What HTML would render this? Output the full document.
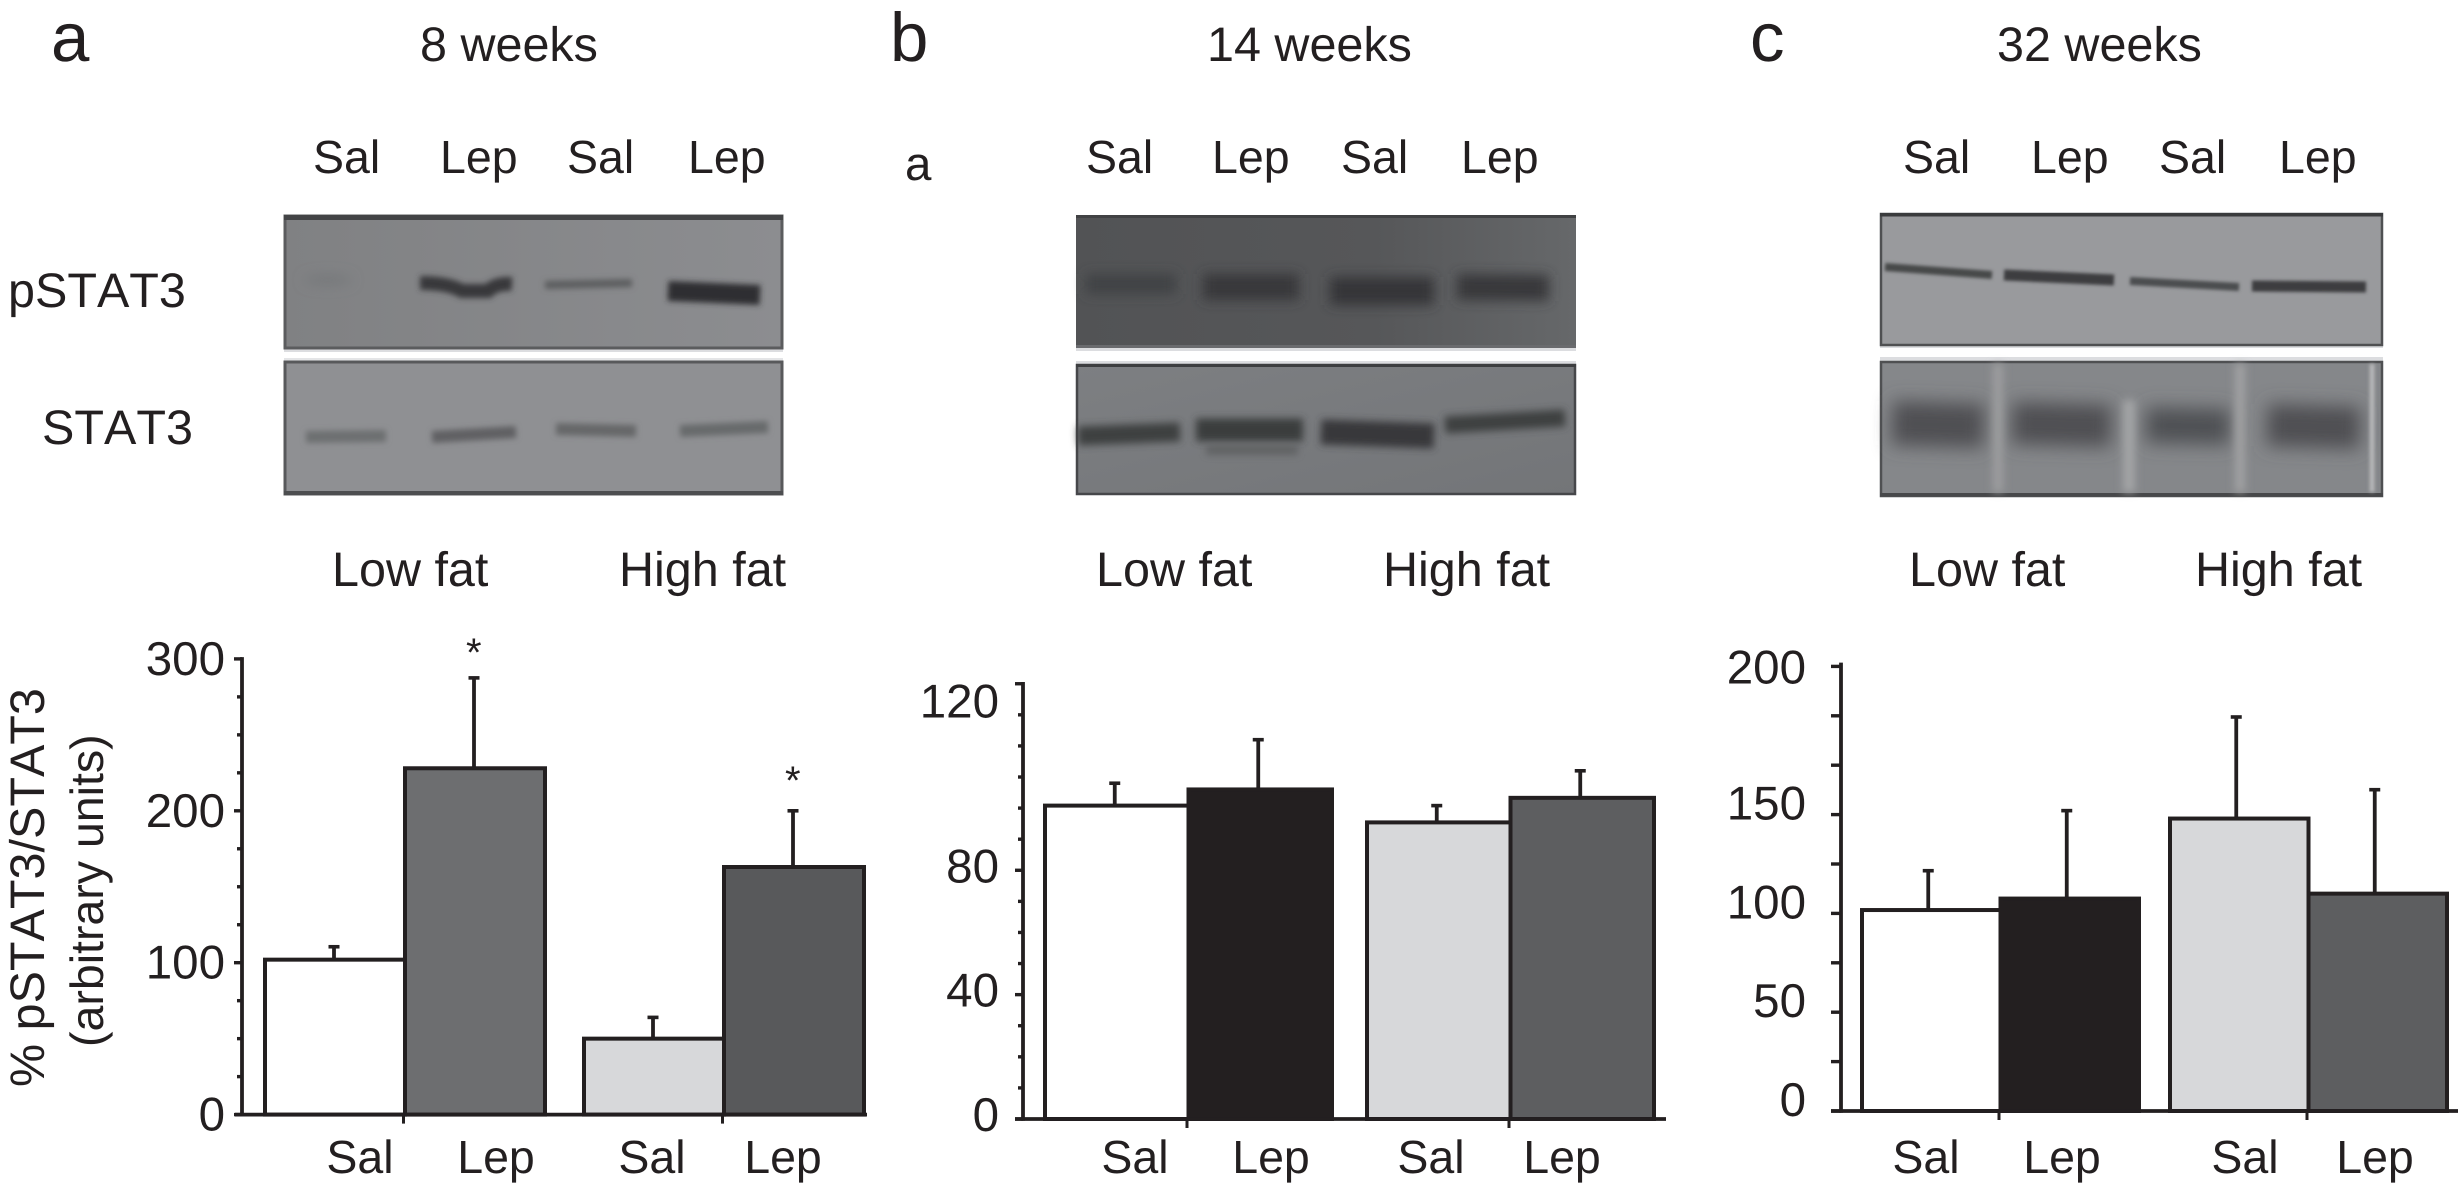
<!DOCTYPE html>
<html lang="en">
<head>
<meta charset="utf-8">
<title>pSTAT3/STAT3 western blots at 8, 14 and 32 weeks</title>
<style>
html,body{margin:0;padding:0;background:#fff;width:2458px;height:1197px;overflow:hidden}
svg{display:block}
text{font-family:"Liberation Sans",Arial,sans-serif;fill:#231f20;text-rendering:geometricPrecision;font-kerning:none}
.t{font-size:48.5px}
.l{font-size:46.5px}
.p{font-size:69px}
.g{font-size:48.5px}
.a{font-size:47.5px}
.x{font-size:46.5px}
</style>
</head>
<body>
<svg id="fig" xmlns="http://www.w3.org/2000/svg" width="2458" height="1197" viewBox="0 0 2458 1197">
<defs>
<filter id="b2" filterUnits="userSpaceOnUse" x="0" y="0" width="2458" height="600"><feGaussianBlur stdDeviation="1.5"/></filter>
<filter id="b3" filterUnits="userSpaceOnUse" x="0" y="0" width="2458" height="600"><feGaussianBlur stdDeviation="3"/></filter>
<filter id="b4" filterUnits="userSpaceOnUse" x="0" y="0" width="2458" height="600"><feGaussianBlur stdDeviation="4"/></filter>
<filter id="b6" filterUnits="userSpaceOnUse" x="0" y="0" width="2458" height="600"><feGaussianBlur stdDeviation="6"/></filter>
<filter id="b9" filterUnits="userSpaceOnUse" x="0" y="0" width="2458" height="600"><feGaussianBlur stdDeviation="9"/></filter>
<linearGradient id="gbt" x1="0" x2="1" y1="0" y2="0"><stop offset="0" stop-color="#525355"/><stop offset=".6" stop-color="#565759"/><stop offset="1" stop-color="#66686a"/></linearGradient>
<linearGradient id="gbb" x1="0" x2="1" y1="0" y2="1"><stop offset="0" stop-color="#7d7f82"/><stop offset="1" stop-color="#737578"/></linearGradient>
<linearGradient id="gat" x1="0" x2="1" y1="0" y2="0"><stop offset="0" stop-color="#808183"/><stop offset="1" stop-color="#8c8d90"/></linearGradient>
</defs>

<!-- Panel a text -->
<text class="p" x="51" y="61">a</text>
<text class="t" x="420" y="61">8 weeks</text>
<text class="l" x="313" y="173">Sal</text>
<text class="l" x="440" y="173">Lep</text>
<text class="l" x="567" y="173">Sal</text>
<text class="l" x="688" y="173">Lep</text>
<text class="g" x="8" y="307">pSTAT3</text>
<text class="g" x="42" y="444">STAT3</text>
<text class="g" x="332" y="586">Low fat</text>
<text class="g" x="619" y="586">High fat</text>
<text class="g" transform="translate(44,1087) rotate(-90)">% pSTAT3/STAT3</text>
<text class="a" style="font-size:46.5px" transform="translate(103,1047) rotate(-90)">(arbitrary units)</text>
<text style="font-size:40px" x="466" y="666">*</text>
<text style="font-size:40px" x="785" y="794">*</text>

<!-- Panel a blots -->
<g>
<rect x="284" y="348" width="499" height="4" fill="#dcdde0"/>
<rect x="285" y="216" width="497" height="132" fill="url(#gat)" stroke="#5b5c5e" stroke-width="3"/>
<rect x="284" y="215" width="499" height="5" fill="#434446"/>
<ellipse cx="328" cy="280" rx="24" ry="5" fill="#76787a" filter="url(#b6)"/>
<path d="M420 283Q448 283 462 291L488 291Q496 283 512 284" fill="none" stroke="#37383a" stroke-width="14" filter="url(#b3)"/>
<path d="M545 285L632 283" fill="none" stroke="#5c5d5f" stroke-width="8" filter="url(#b3)"/>
<path d="M668 291L760 295" fill="none" stroke="#2d2e30" stroke-width="20" filter="url(#b3)"/>
</g>
<g>
<rect x="284" y="358" width="499" height="4" fill="#e4e5e7"/>
<rect x="285" y="362" width="497" height="132" fill="#8f9093" stroke="#58595b" stroke-width="3"/>
<rect x="284" y="491" width="499" height="4" fill="#4d4e50"/>
<path d="M306 437L386 436" fill="none" stroke="#6d6f71" stroke-width="12" filter="url(#b3)"/>
<path d="M432 437L516 432" fill="none" stroke="#606163" stroke-width="12" filter="url(#b3)"/>
<path d="M556 429L636 431" fill="none" stroke="#666769" stroke-width="12" filter="url(#b3)"/>
<path d="M680 431L768 427" fill="none" stroke="#686a6c" stroke-width="12" filter="url(#b3)"/>
</g>

<!-- Panel b text -->
<text class="p" x="890" y="61">b</text>
<text class="t" x="1207" y="61">14 weeks</text>
<text class="a" x="905" y="180">a</text>
<text class="l" x="1086" y="173">Sal</text>
<text class="l" x="1212" y="173">Lep</text>
<text class="l" x="1341" y="173">Sal</text>
<text class="l" x="1461" y="173">Lep</text>
<text class="g" x="1096" y="586">Low fat</text>
<text class="g" x="1383" y="586">High fat</text>

<!-- Panel b blots -->
<g>
<rect x="1076" y="348" width="500" height="3" fill="#dcdde0"/>
<rect x="1076" y="215" width="500" height="133" fill="url(#gbt)"/>
<rect x="1076" y="215" width="500" height="3" fill="#414244"/>
<rect x="1076" y="345" width="500" height="3" fill="#6a6b6e"/>
<path d="M1086 284L1176 284" fill="none" stroke="#414244" stroke-width="20" filter="url(#b6)"/>
<path d="M1203 287L1299 287" fill="none" stroke="#38393b" stroke-width="26" filter="url(#b6)"/>
<path d="M1330 291L1434 291" fill="none" stroke="#353638" stroke-width="28" filter="url(#b6)"/>
<path d="M1457 287L1549 288" fill="none" stroke="#38393b" stroke-width="26" filter="url(#b6)"/>
</g>
<g>
<rect x="1076" y="361" width="500" height="3" fill="#dcdde0"/>
<rect x="1077" y="365" width="498" height="129" fill="url(#gbb)" stroke="#46474a" stroke-width="2.5"/>
<rect x="1076" y="364" width="500" height="3" fill="#3d3e40"/>
<path d="M1078 436L1180 432" fill="none" stroke="#3e3f41" stroke-width="19" filter="url(#b4)"/>
<path d="M1196 430L1303 430" fill="none" stroke="#3b3c3e" stroke-width="23" filter="url(#b4)"/>
<path d="M1206 450L1298 450" fill="none" stroke="#5d5e61" stroke-width="9" filter="url(#b4)"/>
<path d="M1321 432L1434 436" fill="none" stroke="#38393b" stroke-width="25" filter="url(#b4)"/>
<path d="M1445 425L1565 418" fill="none" stroke="#3e3f41" stroke-width="17" filter="url(#b4)"/>
</g>

<!-- Panel c text -->
<text class="p" x="1750" y="61">c</text>
<text class="t" x="1997" y="61">32 weeks</text>
<text class="l" x="1903" y="173">Sal</text>
<text class="l" x="2031" y="173">Lep</text>
<text class="l" x="2159" y="173">Sal</text>
<text class="l" x="2279" y="173">Lep</text>
<text class="g" x="1909" y="586">Low fat</text>
<text class="g" x="2195" y="586">High fat</text>

<!-- Panel c blots -->
<g>
<rect x="1880" y="345" width="503" height="3" fill="#dcdde0"/>
<rect x="1881" y="214" width="501" height="131" fill="#999a9d" stroke="#4f5052" stroke-width="2.5"/>
<rect x="1880" y="213" width="503" height="3.5" fill="#3a3b3d"/>
<path d="M1885 267L1992 275" fill="none" stroke="#47484a" stroke-width="8" filter="url(#b2)"/>
<path d="M2004 275L2114 280" fill="none" stroke="#3c3d3f" stroke-width="11" filter="url(#b2)"/>
<path d="M2130 281L2239 287" fill="none" stroke="#4c4d4f" stroke-width="8" filter="url(#b2)"/>
<path d="M2252 286L2366 287" fill="none" stroke="#3c3d3f" stroke-width="11" filter="url(#b2)"/>
</g>
<g>
<rect x="1880" y="357" width="503" height="4" fill="#dcdde0"/>
<rect x="1881" y="362" width="501" height="134" fill="#85878a" stroke="#4f5052" stroke-width="2.5"/>
<rect x="1880" y="493" width="503" height="3.5" fill="#47484a"/>
<path d="M1892 423L1984 426" fill="none" stroke="#4f5053" stroke-width="44" filter="url(#b9)"/>
<path d="M2012 423L2111 426" fill="none" stroke="#4f5053" stroke-width="42" filter="url(#b9)"/>
<path d="M2146 425L2230 427" fill="none" stroke="#505154" stroke-width="36" filter="url(#b9)"/>
<path d="M2267 425L2360 428" fill="none" stroke="#4f5053" stroke-width="42" filter="url(#b9)"/>
<path d="M1998 364V492" fill="none" stroke="#9c9d9f" stroke-width="10" filter="url(#b4)"/>
<path d="M2129 400V492" fill="none" stroke="#a3a4a6" stroke-width="12" filter="url(#b4)"/>
<path d="M2240 364V492" fill="none" stroke="#a0a1a3" stroke-width="10" filter="url(#b4)"/>
<path d="M2372 364V492" fill="none" stroke="#b5b6b8" stroke-width="5" filter="url(#b2)"/>
</g>
</svg>

<script>
// Shared categories
const barCategories = ['Low fat Sal', 'Low fat Lep', 'High fat Sal', 'High fat Lep'];
const xLabels = ['Sal', 'Lep', 'Sal', 'Lep'];

// Panel a (8 weeks)
const aValues = [102, 228, 50, 163];
const aErrorTops = [110.5, 287.5, 64, 200];
const aTickLabels = ['0', '100', '200', '300'];
const aMajorTicks = [0, 100, 200, 300];
const aMinorTicks = [25, 50, 75, 125, 150, 175, 225, 250, 275];

// Panel b (14 weeks)
const bValues = [100.8, 106, 95.4, 103.3];
const bErrorTops = [108, 122, 100.8, 112];
const bTickLabels = ['0', '40', '80', '120'];
const bMajorTicks = [0, 40, 80, 140];
const bMinorTicks = [10, 20, 30, 50, 60, 70, 90, 100, 110, 120, 130];
// The printed "120" sits near the top tick in the source figure, not at 120 on the scale.
const bLabelValues = [0, 40, 80, 133];

// Panel c (32 weeks)
const cValues = [101.7, 107.5, 148, 110];
const cErrorTops = [121.6, 152, 199.4, 162.6];
const cTickLabels = ['0', '50', '100', '150', '200'];
const cMajorTicks = [0, 25, 50, 75, 100, 125, 150, 175, 200, 225];
const cMinorTicks = [];
// The printed "200" sits near the top tick in the source figure.
const cLabelValues = [0, 50, 100, 150, 219];

const SVG_NS = 'http://www.w3.org/2000/svg';
const INK = '#231f20';
const fig = document.getElementById('fig');

const panels = [
  { id: 'a', values: aValues, errs: aErrorTops, tickLabels: aTickLabels, labelValues: aMajorTicks,
    major: aMajorTicks, minor: aMinorTicks, fills: ['#ffffff', '#6d6e70', '#d7d8da', '#58595b'],
    axisX: 242, y0: 1114.6, unit: 1.519, barX: 265, barW: 140, gap: 39, errShift: -1,
    axisLeft: 235, axisRight: 867, topV: 300, majorLen: 8, minorLen: 5, labelRight: 225, labelDy: 16,
    xLabelX: [360, 496, 652, 783] },
  { id: 'b', values: bValues, errs: bErrorTops, tickLabels: bTickLabels, labelValues: bLabelValues,
    major: bMajorTicks, minor: bMinorTicks, fills: ['#ffffff', '#231f20', '#d7d8da', '#5d5e60'],
    axisX: 1023, y0: 1119, unit: 3.109, barX: 1045, barW: 143.5, gap: 35, errShift: -2,
    axisLeft: 1015, axisRight: 1666, topV: 140, majorLen: 8, minorLen: 5, labelRight: 999, labelDy: 12,
    xLabelX: [1135, 1271, 1431, 1562] },
  { id: 'c', values: cValues, errs: cErrorTops, tickLabels: cTickLabels, labelValues: cLabelValues,
    major: cMajorTicks, minor: cMinorTicks, fills: ['#ffffff', '#231f20', '#d7d8da', '#5d5e60'],
    axisX: 1841, y0: 1111, unit: 1.976, barX: 1862, barW: 138.5, gap: 31, errShift: -3,
    axisLeft: 1831, axisRight: 2458, topV: 226, majorLen: 10, minorLen: 10, labelRight: 1806, labelDy: 5,
    xLabelX: [1926, 2062, 2245, 2375] }
];

function yPos(p, v) { return p.y0 - v * p.unit; }
function barLeft(p, i) { return p.barX + i * p.barW + Math.floor(i / 2) * p.gap; }
function barCenter(p, i) { return barLeft(p, i) + p.barW / 2; }

function makeLine(x1, y1, x2, y2, w) {
  const ln = document.createElementNS(SVG_NS, 'line');
  ln.setAttribute('x1', x1);
  ln.setAttribute('y1', y1);
  ln.setAttribute('x2', x2);
  ln.setAttribute('y2', y2);
  ln.setAttribute('stroke', INK);
  ln.setAttribute('stroke-width', w);
  return ln;
}

function drawPanel(p) {
  const g = document.createElementNS(SVG_NS, 'g');
  
  
  fig.appendChild(g);

  p.values.forEach(function (v, i) {
    const cx = barCenter(p, i) + p.errShift;
    const errTop = yPos(p, p.errs[i]);
    const stem = makeLine(cx, yPos(p, v), cx, errTop, 3.8);
    
    
    g.appendChild(stem);
    const cap = makeLine(cx - 5.5, errTop, cx + 5.5, errTop, 3.6);
    
    
    g.appendChild(cap);
  });

  p.values.forEach(function (v, i) {
    const r = document.createElementNS(SVG_NS, 'rect');
    r.setAttribute('x', barLeft(p, i));
    r.setAttribute('y', yPos(p, v));
    r.setAttribute('width', p.barW);
    r.setAttribute('height', p.y0 - yPos(p, v));
    r.setAttribute('fill', p.fills[i]);
    r.setAttribute('stroke', INK);
    r.setAttribute('stroke-width', 4);
    
    
    r.setAttribute('aria-label', barCategories[i]);
    g.appendChild(r);
  });

  const yAxis = makeLine(p.axisX, yPos(p, p.topV) - 1.8, p.axisX, p.y0 + 1.8, 3.8);
  
  
  g.appendChild(yAxis);

  const xAxis = makeLine(p.axisLeft, p.y0, p.axisRight, p.y0, 3.8);
  
  
  g.appendChild(xAxis);

  p.major.forEach(function (t) {
    const tk = makeLine(p.axisX - p.majorLen, yPos(p, t), p.axisX, yPos(p, t), 3.4);
    
    
    g.appendChild(tk);
  });

  p.minor.forEach(function (t) {
    const tk = makeLine(p.axisX - p.minorLen, yPos(p, t), p.axisX, yPos(p, t), 3.4);
    
    
    g.appendChild(tk);
  });

  [1, 3].forEach(function (i) {
    const bx = barLeft(p, i) - 1.5;
    const tk = makeLine(bx, p.y0, bx, p.y0 + 9, 3);
    
    
    g.appendChild(tk);
  });

  p.tickLabels.forEach(function (lab, i) {
    const t = document.createElementNS(SVG_NS, 'text');
    t.setAttribute('x', p.labelRight);
    t.setAttribute('y', yPos(p, p.labelValues[i]) + p.labelDy);
    t.setAttribute('text-anchor', 'end');
    t.setAttribute('class', 'a');
    
    
    t.textContent = lab;
    g.appendChild(t);
  });

  xLabels.forEach(function (lab, i) {
    const t = document.createElementNS(SVG_NS, 'text');
    t.setAttribute('x', p.xLabelX[i]);
    t.setAttribute('y', 1173);
    t.setAttribute('text-anchor', 'middle');
    t.setAttribute('class', 'x');
    
    
    t.textContent = lab;
    g.appendChild(t);
  });
}

panels.forEach(drawPanel);
</script>
</body>
</html>
